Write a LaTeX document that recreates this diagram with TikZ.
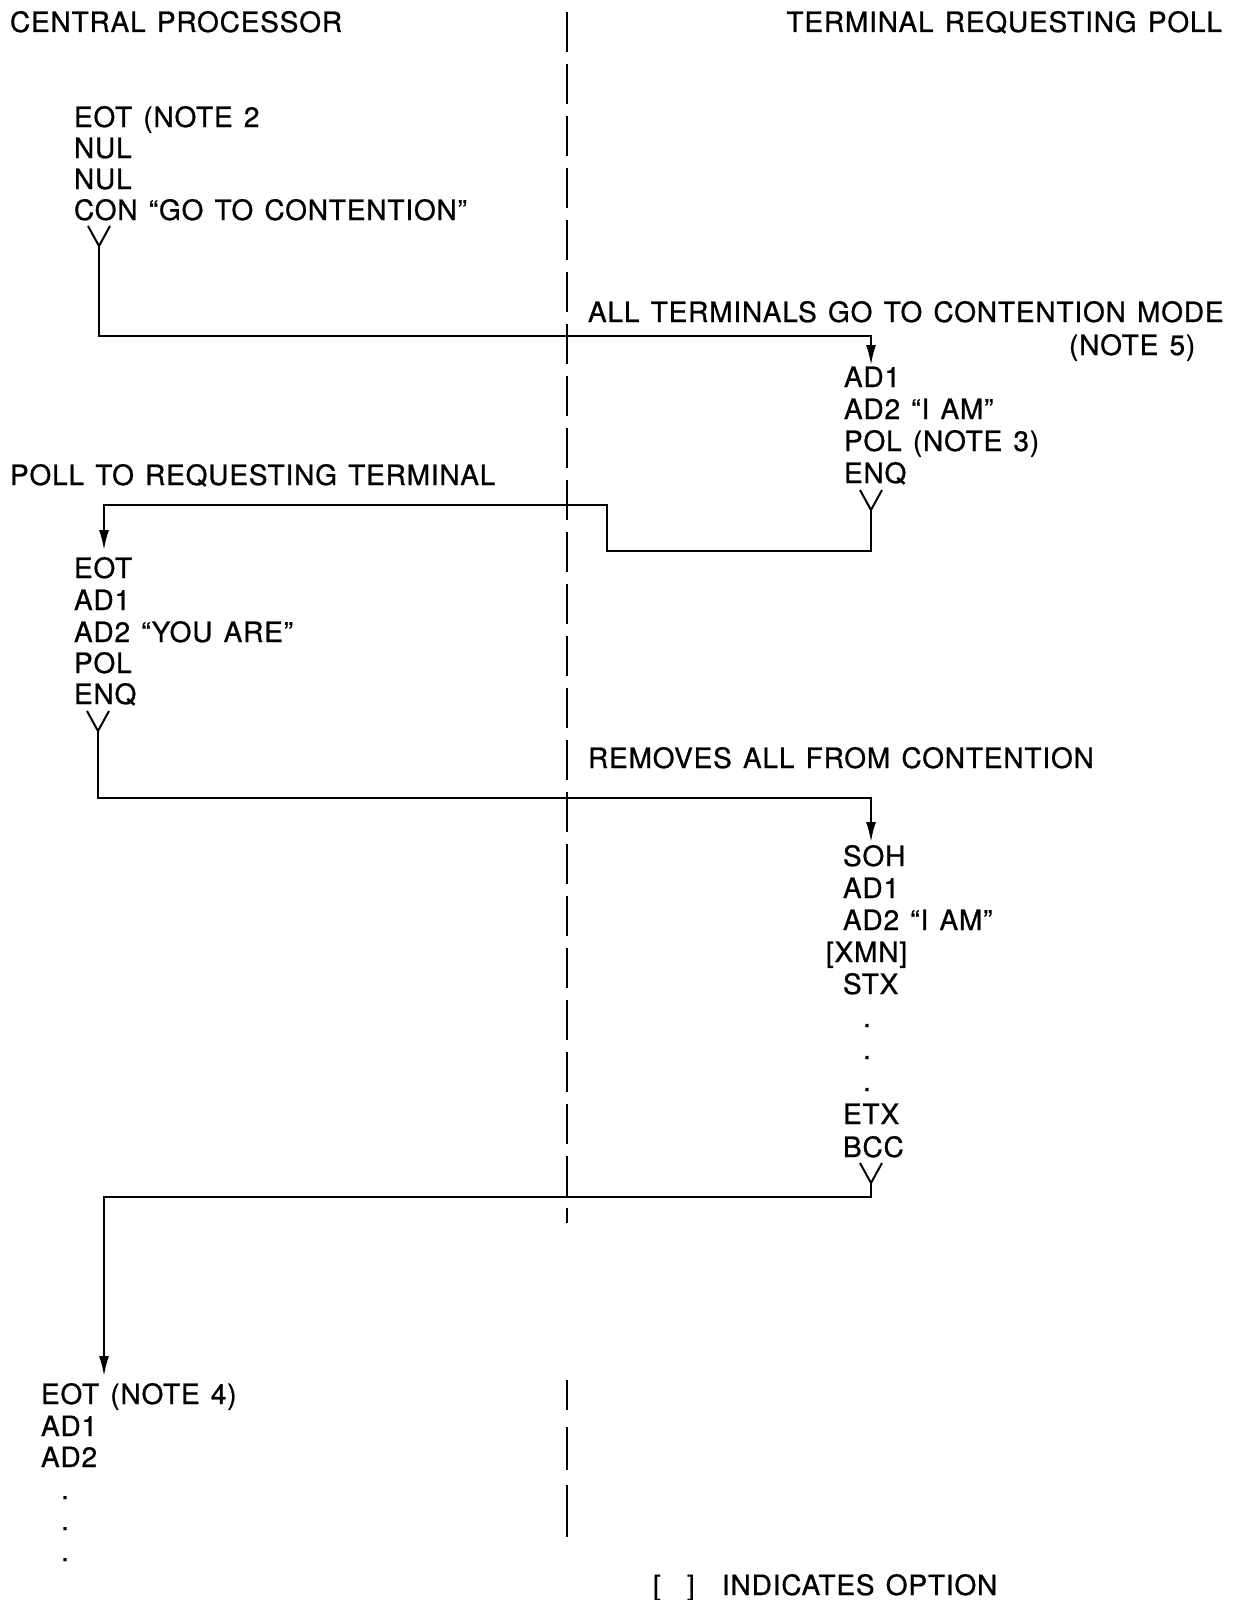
\documentclass[tikz,border=0pt]{standalone}
\usepackage{fontspec}
\setmainfont{TeX Gyre Heros}[LetterSpace=3,WordSpace=1.3,FakeBold=0.8]
\usetikzlibrary{arrows.meta,calc}
\begin{document}
\begin{tikzpicture}[x=0.5pt,y=-0.5pt,
  txt/.style={anchor=base west,inner sep=0pt,outer sep=0pt,font=\fontsize{14}{16}\selectfont},
  dotc/.style={anchor=base,inner sep=0pt,outer sep=0pt,font=\fontsize{14}{16}\selectfont},
  conn/.style={line width=1pt,line join=miter},
  arrconn/.style={conn,-{Latex[length=10pt,width=5pt]}},
  divider/.style={line width=1pt,dash pattern=on 20pt off 6pt},
  ysym/.pic={\draw[line width=1pt] (-11,-20) -- (0,0) -- (11,-20);}
]
\useasboundingbox (0,0) rectangle (1234,1600);

% headers
\node[txt] (hcp) at (10,32) {CENTRAL PROCESSOR};
\node[txt,anchor=base east] (htr) at (1222,32) {TERMINAL REQUESTING POLL};

% divider line
\draw[divider] (567,12) -- (567,1223);
\draw[line width=1pt] (567,1380) -- (567,1410);
\draw[line width=1pt] (567,1427) -- (567,1470);
\draw[line width=1pt] (567,1485) -- (567,1537);

% block 1 (central processor)
\node[txt] (a1) at (74,127) {EOT (NOTE 2};
\node[txt] (a2) at (74,158) {NUL};
\node[txt] (a3) at (74,189) {NUL};
\node[txt] (a4) at (74,220) {CON “GO TO CONTENTION”};

\node[txt] (m1) at (588,322) {ALL TERMINALS GO TO CONTENTION MODE};
\node[txt] (m1b) at (1069,355) {(NOTE 5)};

% right block 1
\node[txt] (b1) at (844,387) {AD1};
\node[txt] (b2) at (844,419) {AD2 “I AM”};
\node[txt] (b3) at (844,451) {POL (NOTE 3)};
\node[txt] (b4) at (844,483) {ENQ};

\node[txt] (m2) at (10,485) {POLL TO REQUESTING TERMINAL};

% block 2
\node[txt] (c1) at (74,578) {EOT};
\node[txt] (c2) at (74,610) {AD1};
\node[txt] (c3) at (74,642) {AD2 “YOU ARE”};
\node[txt] (c4) at (74,673) {POL};
\node[txt] (c5) at (74,704) {ENQ};

\node[txt] (m3) at (588,768) {REMOVES ALL FROM CONTENTION};

% right block 2
\node[txt] (d1) at (843,866) {SOH};
\node[txt] (d2) at (843,898) {AD1};
\node[txt] (d3) at (843,930) {AD2 “I AM”};
\node[txt] (d4) at (826,962) {[XMN]};
\node[txt] (d5) at (843,994) {STX};
\node[dotc] (d6) at (867,1027) {.};
\node[dotc] (d7) at (867,1059) {.};
\node[dotc] (d8) at (867,1091) {.};
\node[txt] (d9) at (843,1124) {ETX};
\node[txt] (d10) at (843,1157) {BCC};

% block 3
\node[txt] (e1) at (41,1404) {EOT (NOTE 4)};
\node[txt] (e2) at (41,1436) {AD1};
\node[txt] (e3) at (41,1467) {AD2};
\node[dotc] (e4) at (65,1499) {.};
\node[dotc] (e5) at (65,1530) {.};
\node[dotc] (e6) at (65,1561) {.};

% legend
\node[txt] (lg1) at (653,1595) {[};
\node[txt] (lg2) at (687,1595) {]};
\node[txt] (lg3) at (722,1595) {INDICATES OPTION};

% connector coordinates
\coordinate (y1) at (99,246);
\coordinate (k1) at (871,336);
\coordinate (t1) at (871,365);

\coordinate (y2) at (871,510);
\coordinate (k2a) at (607,551);
\coordinate (k2b) at (607,505);
\coordinate (k2c) at (104,505);
\coordinate (t2) at (104,550);

\coordinate (y3) at (98,731);
\coordinate (k3) at (871,798);
\coordinate (t3) at (871,842);

\coordinate (y4) at (871,1183);
\coordinate (k4) at (104,1197);
\coordinate (t4) at (104,1376);

% Y symbols
\pic at (y1) {ysym};
\pic at (y2) {ysym};
\pic at (y3) {ysym};
\pic at (y4) {ysym};

% connectors
\draw[arrconn] (y1) |- (k1) -- (t1);
\draw[arrconn] (y2) |- (k2a) -- (k2b) -- (k2c) -- (t2);
\draw[arrconn] (y3) |- (k3) -- (t3);
\draw[arrconn] (y4) |- (k4) -- (t4);
\end{tikzpicture}
\end{document}
